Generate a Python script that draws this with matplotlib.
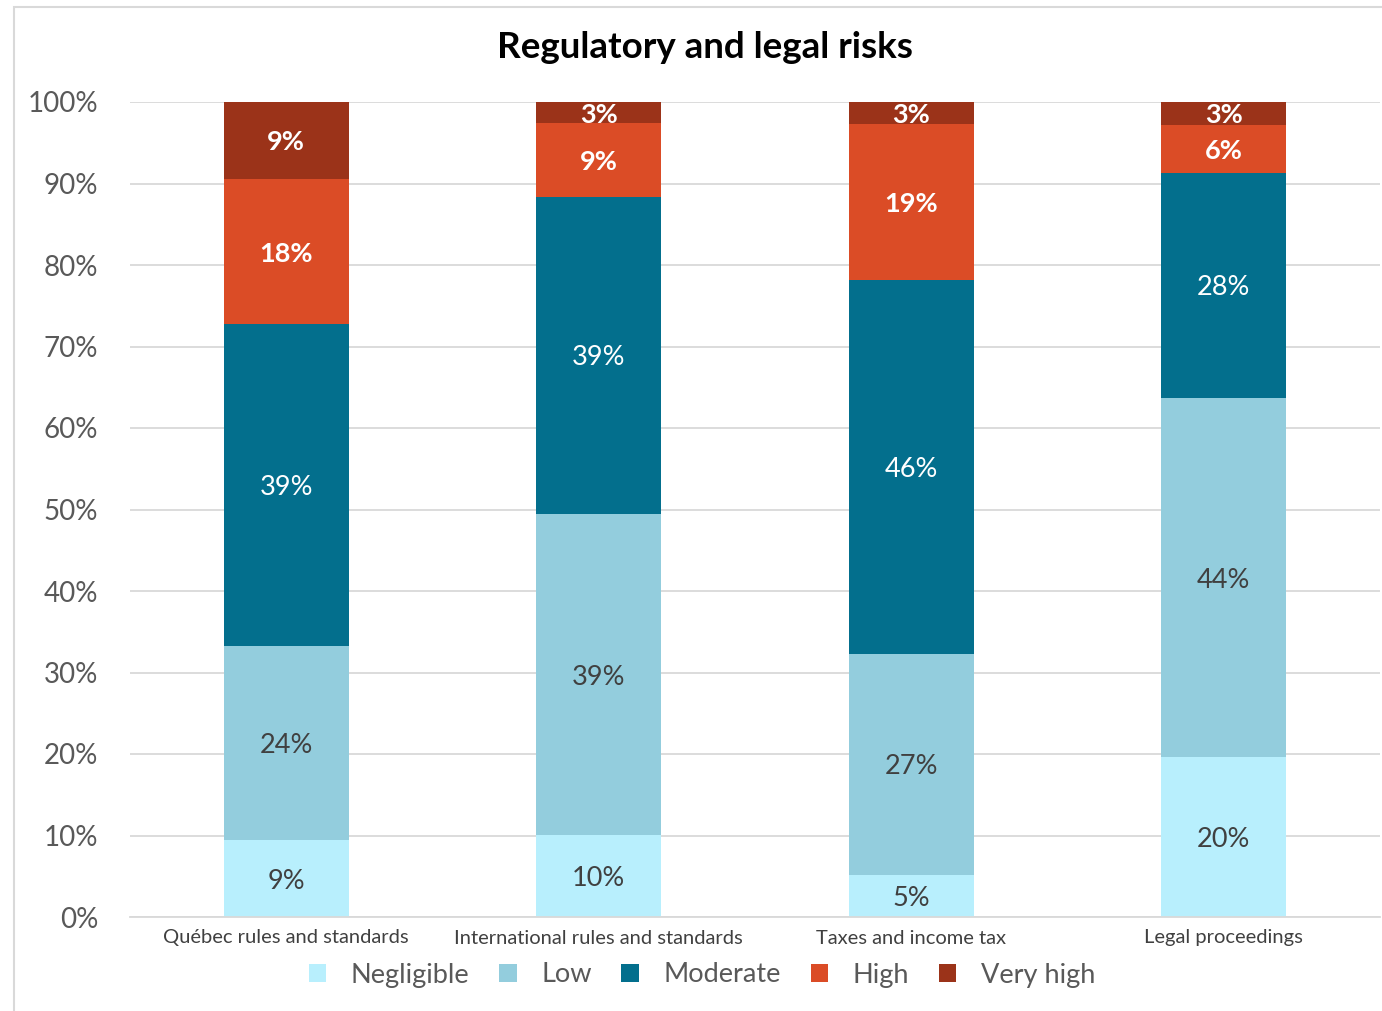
import matplotlib
matplotlib.use("Agg")
import matplotlib.pyplot as plt
from matplotlib.patches import Rectangle
import numpy as np

plt.rcParams['font.family'] = ['Lato', 'DejaVu Sans']

categories = ["Québec rules and standards", "International rules and standards",
              "Taxes and income tax", "Legal proceedings"]
levels = ["Negligible", "Low", "Moderate", "High", "Very high"]

# share of respondents (%) per risk level, one value per category
negligible = [9.4, 10.1, 5.2, 19.6]
low = [23.9, 39.3, 27.1, 44.1]
moderate = [39.4, 39.0, 45.9, 27.6]
high = [17.9, 9.0, 19.1, 5.9]
very_high = [9.4, 2.6, 2.7, 2.8]

series = [negligible, low, moderate, high, very_high]
colors = ["#b8effd", "#93cddd", "#036f8d", "#db4c26", "#9b3319"]
label_colors = ["#404040", "#404040", "white", "white", "white"]
label_weights = ["normal", "normal", "normal", "bold", "bold"]

fig = plt.figure(figsize=(13.82, 10.11), dpi=100)
ax = fig.add_axes([130 / 1382, 1 - 917 / 1011, 1250 / 1382, 815 / 1011])

# outer chart border (top and left edges visible)
fig.patches.append(Rectangle((14 / 1382, -0.1), 1.2, 1 - 7 / 1011 + 0.1,
                             transform=fig.transFigure, fill=False,
                             edgecolor="#d9d9d9", linewidth=1.5))

x = np.arange(len(categories))
bottom = np.zeros(len(categories))
handles = []
for vals, name, col, tcol, tw in zip(series, levels, colors, label_colors, label_weights):
    vals = np.array(vals)
    bars = ax.bar(x, vals, 0.4, bottom=bottom, color=col, label=name, zorder=2)
    handles.append(bars)
    for xi, b, v in zip(x, bottom, vals):
        ax.text(xi, b + v / 2, f"{v:.0f}%", ha="center", va="center_baseline",
                color=tcol, fontsize=19.5, fontweight=tw, zorder=3)
    bottom += vals

ax.set_xlim(-0.5, 3.5)
ax.set_ylim(0, 100)
ax.set_yticks(np.arange(0, 101, 10))
ax.set_yticklabels([f"{t}%" for t in range(0, 101, 10)])
ax.set_xticks(x)
ax.set_xticklabels(categories)
ax.tick_params(axis="y", labelsize=20, labelcolor="#595959", length=0, pad=23)
ax.tick_params(axis="x", labelsize=14.5, labelcolor="#404040", length=0, pad=9)
ax.grid(axis="y", color="#d9d9d9", linewidth=1.3, zorder=0)
for s in ["top", "right", "left"]:
    ax.spines[s].set_visible(False)
ax.spines["bottom"].set_color("#d9d9d9")
ax.spines["bottom"].set_linewidth(1.3)

fig.text(705 / 1382, 1 - 47 / 1011, "Regulatory and legal risks", ha="center",
         va="center", fontsize=26.5, fontweight="bold", color="black")

fig.legend(handles=handles, labels=levels, loc="center", ncol=5,
           bbox_to_anchor=(702 / 1382, 1 - 975 / 1011), frameon=False,
           fontsize=19.5, labelcolor="#595959", handlelength=0.65, handleheight=0.65,
           handletextpad=0.9, columnspacing=1.1)

fig.savefig("out.png", dpi=100)
